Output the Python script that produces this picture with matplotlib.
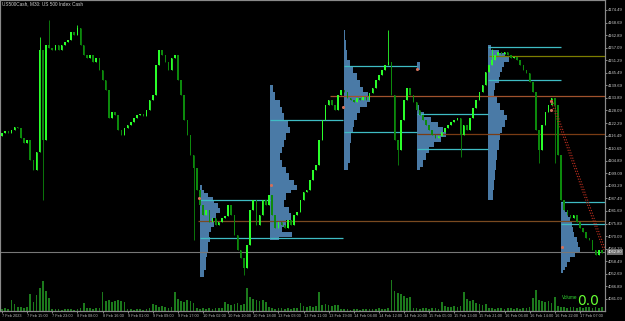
import numpy as np
import matplotlib
matplotlib.use("Agg")
import matplotlib.pyplot as plt

# =========================
# DATA
# =========================
title = "US500Cash, M30: US 500 Index Cash"

closes = [4117.7, 4118.6, 4117.7, 4119.1, 4120.5, 4120.0, 4115.4, 4113.1, 4114.5, 4105.2,
          4100.6, 4108.9, 4156.0, 4114.5, 4158.3, 4156.9, 4156.0, 4158.3, 4156.0, 4158.3,
          4159.7, 4160.6, 4164.3, 4162.9, 4166.2, 4158.3, 4153.7, 4152.3, 4153.7, 4150.5,
          4152.3, 4146.8, 4142.2, 4137.6, 4124.6, 4127.4, 4126.0, 4119.1, 4116.8, 4120.0,
          4121.4, 4122.8, 4124.6, 4126.0, 4126.5, 4125.6, 4128.3, 4132.9, 4135.2, 4149.1,
          4156.0, 4153.7, 4150.5, 4146.8, 4152.3, 4153.7, 4142.2, 4135.2, 4123.7, 4116.8,
          4107.6, 4101.6, 4091.4, 4084.5, 4079.9, 4082.2, 4076.6, 4078.5, 4075.2, 4076.6,
          4078.5, 4079.4, 4084.5, 4079.9, 4070.6, 4063.7, 4060.0, 4055.4, 4066.0, 4082.2,
          4086.8, 4075.2, 4079.9, 4086.8, 4084.5, 4089.1, 4079.9, 4073.9, 4076.6, 4075.2,
          4073.9, 4077.5, 4075.2, 4079.9, 4081.2, 4086.8, 4090.5, 4091.4, 4096.0, 4100.6,
          4102.9, 4114.5, 4123.7, 4130.6, 4132.9, 4130.6, 4128.3, 4135.2, 4137.6, 4136.6,
          4133.9, 4132.9, 4132.0, 4133.9, 4132.9, 4134.3, 4132.9, 4136.2, 4138.5, 4142.2,
          4144.5, 4146.8, 4149.1, 4150.5, 4135.2, 4114.5, 4109.9, 4123.7, 4132.9, 4138.5,
          4135.2, 4132.0, 4128.3, 4126.0, 4123.7, 4121.4, 4119.1, 4116.8, 4115.4, 4116.3,
          4118.2, 4120.0, 4121.4, 4122.8, 4123.7, 4124.6, 4116.8, 4121.4, 4119.1, 4124.6,
          4129.2, 4132.9, 4136.6, 4139.9, 4145.9, 4149.1, 4151.4, 4153.7, 4155.1, 4154.2,
          4155.1, 4153.7, 4152.3, 4152.8, 4151.4, 4149.1, 4146.8, 4145.4, 4141.2, 4136.6,
          4119.1, 4109.9, 4121.4, 4127.4, 4130.6, 4133.9, 4130.6, 4107.6, 4086.8, 4082.2,
          4079.9, 4078.5, 4079.9, 4076.6, 4073.9, 4072.0, 4069.2, 4068.3, 4063.7, 4061.4,
          4063.7, 4062.3]
first_open = 4116.5
spike_highs = {12: 4162.0, 15: 4169.9, 24: 4167.5, 123: 4165.3, 156: 4156.5}
spike_lows = {13: 4086.8, 61: 4068.3, 77: 4052.2, 126: 4103.0, 146: 4106.6, 171: 4103.9, 176: 4103.9}

# tick volume (hundreds)
volumes = [2, 3, 2, 11, 7, 4, 4, 3, 4, 17,
           9, 16, 23, 30, 20, 13, 2, 2, 2, 1,
           2, 2, 2, 1, 2, 3, 8, 3, 3, 2,
           3, 3, 19, 10, 11, 9, 10, 11, 10, 9,
           2, 2, 1, 2, 2, 1, 2, 3, 7, 6,
           4, 5, 4, 3, 4, 19, 12, 10, 9, 11,
           10, 8, 3, 2, 3, 2, 3, 2, 3, 3,
           3, 9, 7, 6, 7, 8, 6, 7, 23, 14,
           12, 11, 10, 11, 9, 4, 3, 2, 3, 3,
           2, 3, 2, 3, 3, 8, 5, 4, 5, 4,
           5, 19, 6, 7, 6, 5, 6, 6, 2, 2,
           2, 1, 2, 2, 1, 2, 2, 2, 2, 2,
           3, 2, 2, 3, 31, 20, 18, 17, 15, 13,
           14, 3, 3, 2, 3, 3, 2, 3, 3, 2,
           9, 5, 4, 4, 5, 4, 5, 19, 12, 10,
           11, 8, 7, 6, 7, 3, 3, 2, 3, 3,
           2, 3, 3, 2, 3, 2, 3, 3, 4, 13,
           21, 11, 10, 9, 10, 8, 14, 5, 4, 4,
           3, 4, 4, 3, 4, 3, 4, 4, 3, 4,
           3, 4]

time_labels = ["7 Feb 2023", "7 Feb 15:00", "7 Feb 23:00", "8 Feb 08:00", "8 Feb 16:00",
               "9 Feb 01:00", "9 Feb 09:00", "9 Feb 17:00", "10 Feb 02:00", "10 Feb 10:00",
               "10 Feb 18:00", "13 Feb 03:00", "13 Feb 11:00", "13 Feb 19:00", "14 Feb 04:00",
               "14 Feb 12:00", "14 Feb 20:00", "15 Feb 05:00", "15 Feb 13:00", "15 Feb 21:00",
               "16 Feb 06:00", "16 Feb 14:00", "16 Feb 22:00", "17 Feb 07:00"]
bars_per_label = 8

price_ticks = [4041.09 + 5.8 * k for k in range(24)]

# volume profiles: start bar, price levels, volume at level
prof_starts = [63.1, 85.4, 108.8, 132.0, 154.9, 178.0]
prof_ends = [85.4, 108.6, 132.2, 154.8, 178.0, 192.0]
prof_levels = [
    [4093.7, 4091.4, 4090.0, 4088.2, 4086.8, 4085.4, 4083.1, 4080.8, 4078.5, 4076.6,
     4074.3, 4072.0, 4069.7, 4067.4, 4065.1, 4062.8, 4060.5, 4057.7, 4054.5, 4051.2],
    [4139.9, 4136.6, 4132.9, 4129.7, 4126.9, 4123.7, 4120.5, 4117.7, 4114.5, 4111.2,
     4108.5, 4105.2, 4102.0, 4099.2, 4096.0, 4093.7, 4091.4, 4090.0, 4086.8, 4083.5,
     4080.8, 4077.5, 4074.3, 4072.0, 4069.7, 4068.3],
    [4165.3, 4160.6, 4156.0, 4151.4, 4148.2, 4145.4, 4142.2, 4139.0, 4136.6, 4134.3,
     4132.0, 4129.7, 4126.9, 4123.7, 4120.5, 4117.7, 4113.1, 4108.5, 4103.9, 4100.6],
    [4150.5, 4146.8, 4130.6, 4127.4, 4125.1, 4122.8, 4120.5, 4118.2, 4115.9, 4113.6,
     4111.2, 4108.5, 4105.2, 4102.0, 4100.6],
    [4158.3, 4156.0, 4154.6, 4152.8, 4150.5, 4148.2, 4145.9, 4143.6, 4140.8, 4137.6,
     4134.3, 4131.6, 4128.3, 4126.0, 4123.7, 4120.5, 4117.7, 4114.5, 4109.9, 4105.2,
     4100.6, 4096.0, 4091.4, 4086.8],
    [4085.9, 4083.5, 4081.2, 4078.9, 4076.6, 4074.3, 4072.0, 4069.7, 4067.4, 4065.1,
     4062.8, 4060.5, 4058.2, 4055.9, 4054.5, 4053.1],
]
prof_volumes = [
    [2, 4, 8, 13, 14, 18, 20, 16, 13, 14, 11, 9, 10, 8, 8, 7, 6, 6, 4, 3],
    [3, 5, 10, 12, 14, 18, 20, 16, 14, 12, 10, 12, 16, 19, 24, 27, 21, 16, 14, 19,
     21, 16, 12, 22, 9, 0],
    [1, 2, 3, 6, 9, 13, 16, 19, 24, 26, 23, 16, 13, 10, 9, 7, 6, 6, 4, 0],
    [3, 0, 2, 7, 14, 21, 26, 29, 24, 17, 12, 9, 6, 3, 0],
    [3, 10, 16, 20, 15, 13, 11, 10, 6, 5, 8, 11, 15, 18, 16, 13, 11, 10, 8, 7,
     6, 5, 4, 0],
    [2, 4, 7, 9, 11, 12, 13, 16, 17, 19, 14, 9, 6, 4, 2, 0],
]
# value area high / low of each profile
va_high = [4086.8, 4123.7, 4148.6, 4126.5, 4157.4, 4085.9]
va_low = [4069.2, 4069.2, 4118.2, 4110.3, 4142.2, 4075.7]

# horizontal levels: price, start bar, colour
level_prices = [4153.2, 4134.6, 4117.0, 4077.1]
level_starts = [155.0, 104.5, 132.0, 62.5]
level_colors = ["#7d7d00", "#a0522d", "#7a3c14", "#7a4a20"]
bid_price = 4062.8

# small session markers (bar, price)
mark_bars = [62.7, 85.7, 108.6, 132.0, 174.8, 174.8, 178.3]
mark_prices = [4087.7, 4093.7, 4129.7, 4147.3, 4132.5, 4128.3, 4065.1]

trend_start = (174.6, 4132.9)
trend_end = (191.5, 4063.7)

# =========================
# FIGURE
# =========================
FONT = ["Liberation Sans", "DejaVu Sans"]
W, H = 625, 321
fig = plt.figure(figsize=(W / 100, H / 100), dpi=100, facecolor="black")
ax = fig.add_axes([0, 10 / H, 605 / W, 311 / H], facecolor="black")
axv = ax.twinx()
axv.set_zorder(0)
ax.set_zorder(1)
ax.patch.set_visible(False)
axv.patch.set_facecolor("black")

n = len(closes)
x = np.arange(n)
opens = np.array([first_open] + closes[:-1])
closes_a = np.array(closes)
highs = np.maximum(opens, closes_a)
lows = np.minimum(opens, closes_a)
for k, v in spike_highs.items():
    highs[k] = v
for k, v in spike_lows.items():
    lows[k] = v

# volume profiles
for s, e, lv, vv in zip(prof_starts, prof_ends, prof_levels, prof_volumes):
    vv = np.array(vv) * 0.32
    ax.fill_betweenx(lv, s, s + vv, step="post", color="#4a7aa6", lw=0, zorder=1)

for s, e, hi, lo in zip(prof_starts, prof_ends, va_high, va_low):
    ax.hlines([hi, lo], s, e, color="#3fbcc4", lw=0.9, zorder=2)

for p, s, c in zip(level_prices, level_starts, level_colors):
    ax.hlines(p, s, n, color=c, lw=0.9, zorder=2)
ax.axhline(bid_price, color="#777777", lw=0.8, zorder=2)

# candles
up = closes_a >= opens
body_col = np.where(up, "#2aff2a", "#0c8a0c")
ax.vlines(x, lows, highs, colors=body_col, lw=0.6, zorder=3)
ax.bar(x, closes_a - opens, bottom=opens, width=0.5, color=body_col, lw=0, zorder=3)

ax.scatter(mark_bars, mark_prices, s=5, color="#d2705a", lw=0, zorder=4)

# trend line
ax.plot([trend_start[0], trend_end[0]], [trend_start[1], trend_end[1]],
        color="#c03020", lw=0.8, ls=(0, (1, 1.5)), zorder=4)
ax.plot([trend_start[0] + 0.6, trend_end[0] + 0.6], [trend_start[1], trend_end[1]],
        color="#c03020", lw=0.8, ls=(0, (1, 1.5)), zorder=4)

# volume
axv.bar(x, volumes, width=0.55, color="#1c7a1c", lw=0)
axv.set_ylim(0, max(volumes) * 10.0)
axv.set_yticks([])

ax.set_xlim(-0.64, 192.0)
ax.set_ylim(4035.5, 4179.1)
ax.yaxis.tick_right()
axv.yaxis.set_visible(False)
ax.set_yticks(price_ticks)
ax.set_yticklabels([f"{v:.2f}" for v in price_ticks], family=FONT)
ax.set_xticks(np.arange(len(time_labels)) * bars_per_label)
ax.set_xticklabels(time_labels, ha="left", family=FONT)
ax.tick_params(axis="x", colors="#bbbbbb", labelsize=2.8, length=1.5, width=0.5, pad=1)
ax.tick_params(axis="y", colors="#bbbbbb", labelcolor="#cccccc", labelsize=3.0,
               length=1.5, width=0.5, pad=0.6)
for a in (ax, axv):
    for sp in a.spines.values():
        sp.set_color("#8a8a8a")
        sp.set_linewidth(0.8)

# current price tag on the price scale
ax.annotate(f"{bid_price:.2f}", xy=(1.0, bid_price), xycoords=("axes fraction", "data"),
            xytext=(2.2, 0), textcoords="offset points", va="center", ha="left",
            fontsize=3.0, family=FONT, color="white",
            bbox=dict(boxstyle="square,pad=0.15", fc="#6e6e6e", ec="none"))

ax.text(0.004, 0.995, title, transform=ax.transAxes, color="#cccccc",
        fontsize=3.4, va="top", ha="left", family=FONT)
ax.text(0.955, 0.035, "Volume", transform=ax.transAxes, color="#33dd33",
        fontsize=3.3, ha="right", va="bottom", family=FONT)
ax.text(0.99, 0.01, "0.0", transform=ax.transAxes, color="#66ff33",
        fontsize=10, ha="right", va="bottom")

fig.savefig("out.png", dpi=100, facecolor="black")
